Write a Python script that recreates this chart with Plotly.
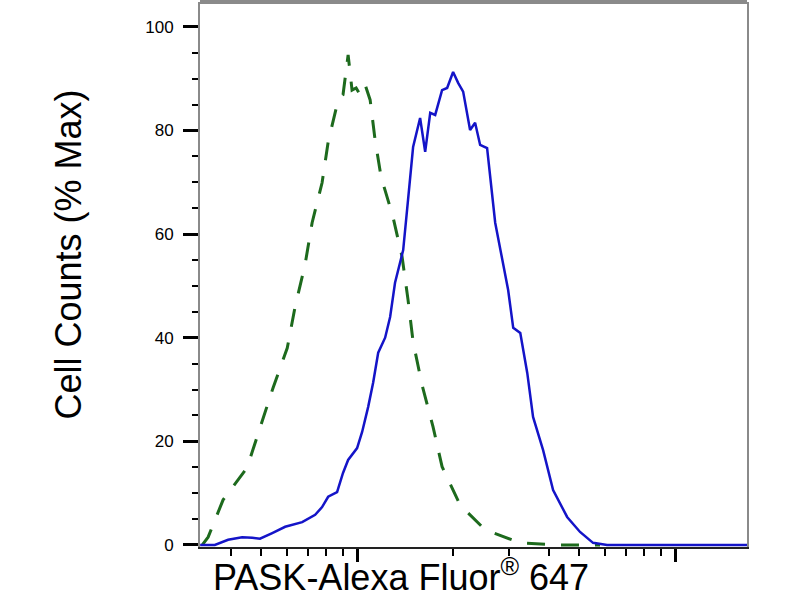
import plotly.graph_objects as go

# fluorescence intensity (log axis) and % of max
ctrl_x = [326, 340, 379, 451, 495, 544, 603, 638, 686, 722, 776, 811, 872, 903,
          937, 964, 993, 1022, 1060, 1099, 1139, 1190, 1297, 1385, 1446, 1500,
          1600, 1733, 1850, 2108, 2529, 3259, 4350, 5805]
ctrl_y = [0, 1.5, 8.7, 14.9, 22.6, 30.3, 38.0, 45.9, 54.1, 62.2, 69.9, 77.8, 85.9, 86.9,
          94.6, 87.8, 88.2, 86.9, 88.8, 85.9, 78.2, 71.0, 63.3, 55.6, 47.3, 39.2,
          30.9, 22.8, 15.1, 7.7, 2.9, 0.4, 0, 0]

pask_x = [321, 357, 393, 435, 468, 495, 541, 594, 672, 738, 776, 811, 865, 903, 937,
          1000, 1037, 1083, 1123, 1165, 1225, 1270, 1316, 1396, 1446, 1500, 1578,
          1637, 1698, 1760, 1850, 1919, 2004, 2078, 2155, 2266, 2350, 2437, 2563,
          2718, 2985, 3097, 3259, 3428, 3575, 3845, 4133, 4575, 5024, 5520, 6110, 16830]
pask_y = [0, 0, 1.0, 1.5, 1.4, 1.2, 2.3, 3.5, 4.4, 5.8, 7.3, 9.3, 10.2, 13.9, 16.4,
          18.7, 21.8, 26.6, 31.3, 37.1, 40.0, 44.0, 50.6, 56.9, 66.6, 76.8, 82.4,
          75.9, 83.4, 83.0, 87.8, 88.2, 91.3, 89.2, 87.5, 80.1, 81.5, 77.2, 76.6,
          62.2, 49.2, 41.9, 40.9, 33.2, 24.7, 18.3, 10.6, 5.4, 2.5, 0.4, 0, 0]

x_major = [1000, 10000]
x_minor = [400, 500, 600, 700, 800, 900,
           2000, 3000, 4000, 5000, 6000, 7000, 8000, 9000]
y_major = [0, 20, 40, 60, 80, 100]

font = "Arial, Liberation Sans, sans-serif"

fig = go.Figure()
fig.add_trace(go.Scatter(x=ctrl_x, y=ctrl_y, mode="lines",
                         line=dict(color="#1d6a1d", width=3, dash="18px,16px")))
fig.add_trace(go.Scatter(x=pask_x, y=pask_y, mode="lines",
                         line=dict(color="#1414c8", width=2.5)))

fig.update_layout(
    width=800, height=600,
    margin=dict(l=200, r=53, t=2, b=53),
    paper_bgcolor="white", plot_bgcolor="white",
    showlegend=False,
    font=dict(family=font, color="black"),
    xaxis=dict(
        type="log", range=[2.506, 4.226],
        showgrid=False, zeroline=False,
        showline=True, linecolor="#222222", linewidth=2,
        tickmode="array", tickvals=x_major, showticklabels=False,
        ticks="outside", ticklen=13, tickwidth=3, tickcolor="black",
        minor=dict(tickmode="array", tickvals=x_minor, ticks="outside",
                   ticklen=7, tickwidth=1.5, tickcolor="black"),
    ),
    yaxis=dict(
        range=[-0.4, 104.8],
        showgrid=False, zeroline=False,
        showline=True, linecolor="#8a8a8a", linewidth=2, mirror=True,
        tickmode="array", tickvals=y_major,
        ticks="outside", ticklen=15, tickwidth=3, tickcolor="black",
        tickfont=dict(size=17, family=font),
        ticklabelstandoff=6,
        minor=dict(dtick=5, tick0=0, ticks="outside",
                   ticklen=6, tickwidth=1.5, tickcolor="black"),
    ),
    shapes=[dict(type="line", xref="paper", yref="paper", x0=0, x1=1, y0=1, y1=1,
                 line=dict(color="#8a8a8a", width=4))],
    annotations=[
        dict(text="PASK-Alexa Fluor<sup>®</sup> 647", xref="paper", yref="paper",
             x=0.02, y=-0.097, xanchor="left", yanchor="bottom", showarrow=False,
             font=dict(size=36, family=font, color="black")),
        dict(text="Cell Counts (% Max)", xref="paper", yref="paper",
             x=-0.241, y=0.537, xanchor="center", yanchor="middle", showarrow=False,
             textangle=-90, font=dict(size=36, family=font, color="black")),
    ],
)

fig.write_html("out.html", config={"displayModeBar": False},
               post_script="document.body.style.margin='0';")
